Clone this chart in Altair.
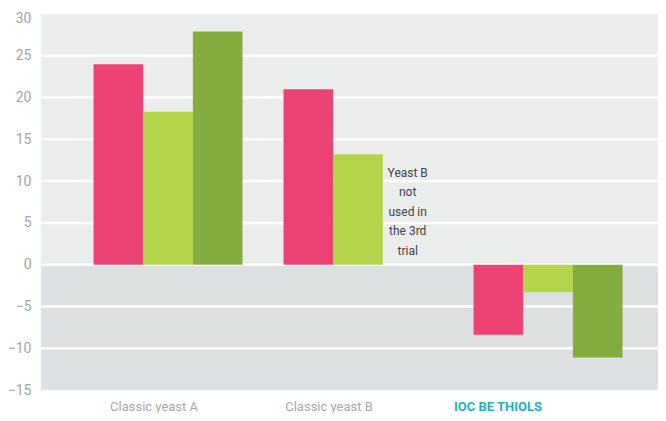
import altair as alt
import pandas as pd

categories = ["Classic yeast A", "Classic yeast B", "IOC BE THIOLS"]
series = ["Trial 1", "Trial 2", "Trial 3"]
values = {
    "Trial 1": [24.0, 21.0, -8.4],
    "Trial 2": [18.3, 13.2, -3.3],
    "Trial 3": [27.9, None, -11.1],
}
colors = ["#ec4274", "#b4d44c", "#84ac3f"]
note_lines = ["Yeast B", "not", "used in", "the 3rd", "trial"]

band_lo = [25, 20, 15, 10, 5, 0, -5, -10, -15]
band_kind = ["pos", "pos", "pos", "pos", "pos", "pos", "neg", "neg", "neg"]
grid_vals = [25, 20, 15, 10, 5, 0, -5, -10]

rows = []
for s in series:
    for c, v in zip(categories, values[s]):
        if v is not None:
            rows.append({"category": c, "series": s, "value": v})
df = pd.DataFrame(rows)

bg = pd.DataFrame({"lo": band_lo, "hi": [b + 5 for b in band_lo], "kind": band_kind})
grid = pd.DataFrame({"g": grid_vals})
note = pd.DataFrame({"category": ["Classic yeast B"], "series": ["Trial 3"],
                     "txt": [note_lines]})

yscale = alt.Scale(domain=[-15, 30], nice=False, zero=False)

bg_layer = alt.Chart(bg).mark_rect().encode(
    y=alt.Y("lo:Q", scale=yscale),
    y2="hi:Q",
    color=alt.Color("kind:N", scale=alt.Scale(domain=["pos", "neg"], range=["#ebeded", "#dde0e1"]), legend=None),
)

grid_layer = alt.Chart(grid).mark_rule(color="white", strokeWidth=2.5).encode(
    y=alt.Y("g:Q", scale=yscale)
)

xaxis = alt.Axis(
    title=None, domain=False, ticks=False, labelAngle=0,
    labelFontSize=13, labelPadding=10, labelFont="Roboto",
    labelColor={"condition": {"test": "datum.value == 'IOC BE THIOLS'", "value": "#1ab3b8"}, "value": "#a9a9a9"},
    labelFontWeight={"condition": {"test": "datum.value == 'IOC BE THIOLS'", "value": "bold"}, "value": "normal"},
    labelOffset={"condition": [
        {"test": "datum.value == 'Classic yeast A'", "value": -14},
        {"test": "datum.value == 'Classic yeast B'", "value": -29}], "value": -50},
)

xscale = alt.Scale(domain=categories, paddingInner=0.216, paddingOuter=0.2316, align=0.597)
offscale = alt.Scale(domain=series, paddingInner=0, paddingOuter=0)

bars = alt.Chart(df).mark_bar().encode(
    x=alt.X("category:N", scale=xscale, axis=xaxis, sort=categories),
    xOffset=alt.XOffset("series:N", scale=offscale, sort=series),
    y=alt.Y("value:Q", scale=yscale,
            axis=alt.Axis(title=None, values=[30, 25, 20, 15, 10, 5, 0, -5, -10, -15],
                          domain=False, ticks=False, grid=False, labelFontSize=14,
                          labelColor="#a3a3a3", labelPadding=10, labelFont="Roboto",
                          labelOffset={"condition": {"test": "datum.value == 30", "value": 4}, "value": 0})),
    fill=alt.Fill("series:N", scale=alt.Scale(domain=series, range=colors), legend=None),
)

note_layer = alt.Chart(note).mark_text(
    fontSize=12, color="#444444", font="Roboto", lineHeight=19.5, baseline="top", align="center"
).encode(
    x=alt.X("category:N", scale=xscale, sort=categories),
    xOffset=alt.XOffset("series:N", scale=offscale, sort=series),
    y=alt.datum(11.6),
    text="txt",
)

chart = alt.layer(bg_layer, grid_layer, bars, note_layer).resolve_scale(
    color="independent"
).properties(
    width=617, height=376,
    autosize=alt.AutoSizeParams(type="none"),
    padding={"left": 33, "top": 6, "right": 0, "bottom": 23},
).configure_view(stroke=None)

chart.save("out.html", embed_options={"renderer": "svg", "actions": False})
